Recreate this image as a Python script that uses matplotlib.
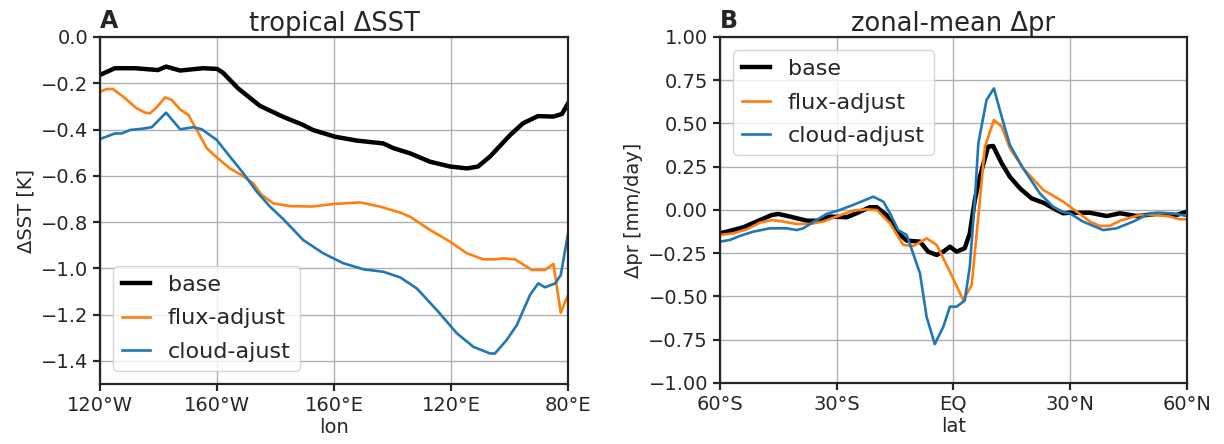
"""Two-panel figure: tropical SST change along longitude and zonal-mean precipitation change."""

import matplotlib
matplotlib.use("Agg")
import matplotlib.pyplot as plt

# panel A: tropical dSST vs longitude (degrees east, 240 = 120W)
LON_BASE = [240, 234.9, 228, 220.2, 217.4, 212.6, 204.8, 200, 198, 192.8, 185.3, 177.4,
            170.6, 167.2, 159.7, 152.1, 143.2, 139.8, 134, 127.2, 120.3, 114.5, 110.8,
            106.7, 99.8, 95.4, 90.3, 85.1, 82.1, 80]
SST_BASE = [-0.164, -0.135, -0.135, -0.143, -0.128, -0.145, -0.135, -0.138, -0.154, -0.222,
            -0.298, -0.345, -0.38, -0.402, -0.431, -0.448, -0.46, -0.48, -0.503, -0.539,
            -0.56, -0.568, -0.56, -0.517, -0.424, -0.373, -0.342, -0.344, -0.333, -0.287]

LON_FLUX = [240, 237.7, 235.6, 232.1, 227.5, 224.6, 222.9, 220.6, 217.8, 215.5, 212.6, 209.8,
            206.9, 203.5, 200.1, 195.6, 191.6, 187.6, 184.7, 180.8, 175.1, 167.6, 160.2,
            151.1, 144.3, 137.4, 134, 127.2, 120.3, 114.6, 109, 105, 102.1, 98.1, 92.4,
            87.9, 85, 82.5, 80]
SST_FLUX = [-0.236, -0.225, -0.225, -0.258, -0.308, -0.327, -0.33, -0.304, -0.261, -0.272,
            -0.313, -0.337, -0.402, -0.481, -0.52, -0.568, -0.597, -0.633, -0.683, -0.719,
            -0.731, -0.733, -0.722, -0.715, -0.733, -0.759, -0.777, -0.834, -0.885, -0.935,
            -0.961, -0.961, -0.957, -0.961, -1.007, -1.007, -0.981, -1.192, -1.115]

LON_CLOUD = [240, 234.9, 232.6, 229.7, 225.2, 222.3, 217.4, 212.6, 208.1, 205.2, 200.1, 195.6,
             191, 186.4, 181.9, 177.3, 170.5, 163.7, 156.8, 150, 143.1, 137.4, 131.7, 124.9,
             118, 112.4, 106.7, 105, 101, 97.5, 93, 90.2, 87.9, 84.4, 82.5, 80]
SST_CLOUD = [-0.441, -0.417, -0.417, -0.402, -0.396, -0.39, -0.327, -0.399, -0.39, -0.399,
             -0.445, -0.517, -0.589, -0.669, -0.733, -0.788, -0.878, -0.935, -0.978, -1.004,
             -1.015, -1.039, -1.087, -1.18, -1.281, -1.339, -1.368, -1.368, -1.31, -1.245,
             -1.115, -1.065, -1.082, -1.065, -1.029, -0.849]

LON_TICKS = [240, 200, 160, 120, 80]
LON_LABELS = ["120°W", "160°W", "160°E", "120°E", "80°E"]

# panel B: zonal-mean dpr vs latitude
LAT_BASE = [-60, -56.6, -54, -50.6, -46.7, -45, -42, -37.7, -35.2, -31.7, -27.4, -24.9, -21.5,
            -19.7, -17.2, -14.6, -12, -8.6, -6.5, -4.3, -2.6, -0.9, 0.8, 2.9, 4.2, 5.5, 6.8,
            8.9, 10.2, 12.4, 14.5, 17.1, 20.1, 23.1, 26.5, 28.2, 29.9, 35.1, 39.4, 42.8, 47.1,
            52.2, 57.3, 60]
PR_BASE = [-0.135, -0.116, -0.1, -0.067, -0.029, -0.023, -0.038, -0.062, -0.062, -0.038,
           -0.042, -0.019, 0.016, 0.016, -0.029, -0.125, -0.177, -0.183, -0.241, -0.26,
           -0.241, -0.212, -0.241, -0.221, -0.135, 0.058, 0.192, 0.366, 0.37, 0.27, 0.192,
           0.125, 0.067, 0.042, 0.0, -0.019, -0.016, -0.016, -0.035, -0.019, -0.035, -0.023,
           -0.029, -0.01]

LAT_FLUX = [-60, -56.6, -53.1, -49.7, -46.7, -43.7, -40.3, -36.9, -33.5, -30, -25.8, -22.3,
            -19.7, -16.3, -12.9, -10.3, -6.9, -4.3, -0.9, 2.5, 4.7, 6.8, 8.1, 10.4, 12.4, 14.5,
            17.9, 23.1, 28.2, 31.7, 35.1, 37.6, 40.2, 42.8, 47.9, 52.2, 55.6, 58.1, 60]
PR_FLUX = [-0.145, -0.135, -0.112, -0.073, -0.058, -0.067, -0.081, -0.081, -0.067, -0.038,
           -0.004, 0.004, 0.0, -0.077, -0.202, -0.208, -0.164, -0.202, -0.357, -0.52, -0.434,
           0.058, 0.366, 0.52, 0.482, 0.357, 0.241, 0.116, 0.048, -0.01, -0.067, -0.092,
           -0.092, -0.062, -0.029, -0.029, -0.038, -0.054, -0.054]

LAT_CLOUD = [-60, -57.4, -54.9, -51.4, -47.2, -42.9, -40.3, -38.6, -35.2, -32.6, -29.2, -25.8,
             -20.6, -18, -16.3, -14.2, -12, -8.6, -6.9, -4.8, -2.6, -0.9, 0.8, 2.9, 4.2, 5.5,
             6.4, 8.5, 10.4, 12.4, 14.5, 17.9, 22.2, 25.6, 27.8, 29.9, 33.3, 38.5, 41.9, 46.2,
             50.5, 53.9, 57.3, 60]
PR_CLOUD = [-0.183, -0.173, -0.15, -0.125, -0.106, -0.106, -0.116, -0.106, -0.058, -0.023,
            0.0, 0.029, 0.077, 0.048, -0.019, -0.116, -0.145, -0.366, -0.617, -0.775, -0.675,
            -0.559, -0.559, -0.524, -0.328, 0.058, 0.385, 0.636, 0.703, 0.539, 0.376, 0.241,
            0.096, 0.019, -0.01, -0.019, -0.067, -0.116, -0.106, -0.067, -0.019, -0.016,
            -0.023, -0.035]

LAT_TICKS = [-60, -30, 0, 30, 60]
LAT_LABELS = ["60°S", "30°S", "EQ", "30°N", "60°N"]

ORANGE = "#ff7f0e"
BLUE = "#1f77b4"
TEXT = "#262626"

plt.rcParams["font.family"] = "DejaVu Sans"
plt.rcParams["text.color"] = TEXT
plt.rcParams["axes.labelcolor"] = TEXT
plt.rcParams["xtick.color"] = TEXT
plt.rcParams["ytick.color"] = TEXT

fig = plt.figure(figsize=(12.24, 4.44), dpi=100)
ax1 = fig.add_axes([0.0817, 0.1351, 0.3824, 0.7816])
ax2 = fig.add_axes([0.5882, 0.1374, 0.3815, 0.7793])


def _style(ax):
    ax.grid(True, color="#b0b0b0", linewidth=1.0)
    ax.set_axisbelow(True)
    for sp in ax.spines.values():
        sp.set_linewidth(1.6)
        sp.set_color(TEXT)
    ax.tick_params(labelsize=14, width=1.6, length=5)


def _legend(ax, loc):
    ax.legend(loc=loc, fontsize=16, framealpha=0.8, borderaxespad=0.6,
              handlelength=1.25, labelspacing=0.6)


# panel A
ax1.plot(LON_BASE, SST_BASE, color="black", linewidth=3.2, label="base")
ax1.plot(LON_FLUX, SST_FLUX, color=ORANGE, linewidth=1.9, label="flux-adjust")
ax1.plot(LON_CLOUD, SST_CLOUD, color=BLUE, linewidth=1.9, label="cloud-ajust")
ax1.set_xlim(240, 80)
ax1.set_ylim(-1.5, 0.0)
ax1.set_xticks(LON_TICKS)
ax1.set_xticklabels(LON_LABELS)
ax1.set_yticks([0.0, -0.2, -0.4, -0.6, -0.8, -1.0, -1.2, -1.4])
ax1.set_xlabel("lon", fontsize=14, labelpad=2)
ax1.set_ylabel("ΔSST [K]", fontsize=14)
ax1.set_title("tropical ΔSST", fontsize=18.5, pad=3)
ax1.text(0.0, 1.012, "A", transform=ax1.transAxes, fontsize=17, fontweight="bold",
         ha="left", va="bottom")
_style(ax1)
_legend(ax1, "lower left")

# panel B
ax2.plot(LAT_BASE, PR_BASE, color="black", linewidth=3.2, label="base")
ax2.plot(LAT_FLUX, PR_FLUX, color=ORANGE, linewidth=1.9, label="flux-adjust")
ax2.plot(LAT_CLOUD, PR_CLOUD, color=BLUE, linewidth=1.9, label="cloud-adjust")
ax2.set_xlim(-60, 60)
ax2.set_ylim(-1.0, 1.0)
ax2.set_xticks(LAT_TICKS)
ax2.set_xticklabels(LAT_LABELS)
ax2.set_yticks([1.0, 0.75, 0.5, 0.25, 0.0, -0.25, -0.5, -0.75, -1.0])
ax2.set_xlabel("lat", fontsize=14, labelpad=2)
ax2.set_ylabel("Δpr [mm/day]", fontsize=14)
ax2.set_title("zonal-mean Δpr", fontsize=18.5, pad=3)
ax2.text(0.0, 1.012, "B", transform=ax2.transAxes, fontsize=17, fontweight="bold",
         ha="left", va="bottom")
_style(ax2)
_legend(ax2, "upper left")

fig.savefig("out.png", dpi=100)
